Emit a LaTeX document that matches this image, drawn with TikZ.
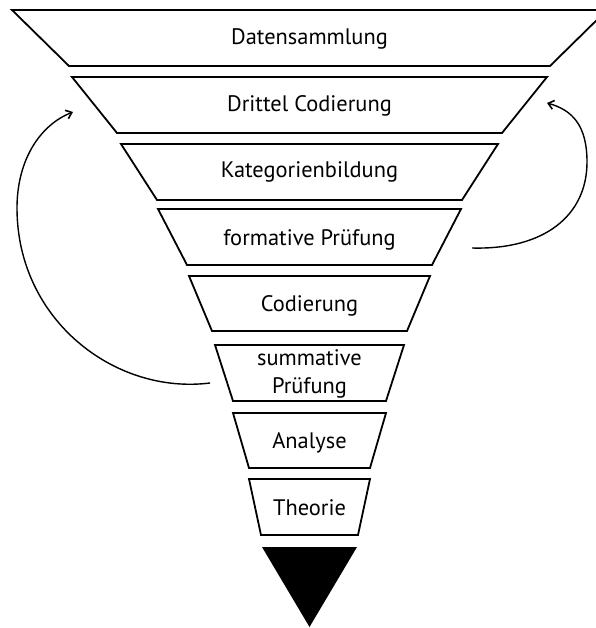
\documentclass[tikz,border=0pt]{standalone}
\usepackage{fontspec}
\setmainfont{PT Sans}
\usetikzlibrary{arrows.meta}
\begin{document}
\begin{tikzpicture}[x=1bp,y=-1bp,
  level/.style={draw=black,line width=1.8bp,line join=miter},
  lbl/.style={font=\fontsize{22.5}{28}\selectfont,align=center,inner sep=0pt,anchor=base},
  loop/.style={line width=1.4bp,-{Straight Barb[length=5.5bp,width=9bp,line width=1.6bp]}}]
\useasboundingbox (0,0) rectangle (596,628);
\clip (0,0) rectangle (596,628);
% funnel levels (centre x = 309.5)
\draw[level] (12,10) -- (607,10) -- (550,66) -- (69,66) -- cycle;
\node[lbl] (l1) at (309.5,45) {Datensammlung};
\draw[level] (72,77) -- (547,77) -- (502,133) -- (117,133) -- cycle;
\node[lbl] (l2) at (309.5,112) {Drittel Codierung};
\draw[level] (121,144) -- (498,144) -- (462,200) -- (157,200) -- cycle;
\node[lbl] (l3) at (309.5,178) {Kategorienbildung};
\draw[level] (158,209) -- (461,209) -- (432,265) -- (187,265) -- cycle;
\node[lbl] (l4) at (309.5,245) {formative Prüfung};
\draw[level] (189,276) -- (430,276) -- (407,331) -- (212,331) -- cycle;
\node[lbl] (l5) at (309.5,311) {Codierung};
\draw[level] (215,345) -- (404,345) -- (386,401) -- (233,401) -- cycle;
\node[lbl] (l6) at (309.5,393) {summative\\Prüfung};
\draw[level] (233,413) -- (386,413) -- (370,468) -- (249,468) -- cycle;
\node[lbl] (l7) at (309.5,448) {Analyse};
\draw[level] (249,479) -- (370,479) -- (358,535) -- (261,535) -- cycle;
\node[lbl] (l8) at (309.5,515) {Theorie};
\fill[black] (262,547) -- (357,547) -- (309.5,627) -- cycle;
% feedback loops
\coordinate (ls) at (210,383);
\coordinate (lm) at (17,208);
\coordinate (le) at (73,112);
\coordinate (rs) at (472,248);
\coordinate (rm) at (587,162);
\coordinate (re) at (547,103);
\draw[loop] (ls) .. controls (115,395) and (17,320) .. (lm)
  .. controls (17,160) and (40,125) .. (le);
\draw[loop] (rs) .. controls (545,250) and (587,215) .. (rm)
  .. controls (587,125) and (572,110) .. (re);
\end{tikzpicture}
\end{document}
